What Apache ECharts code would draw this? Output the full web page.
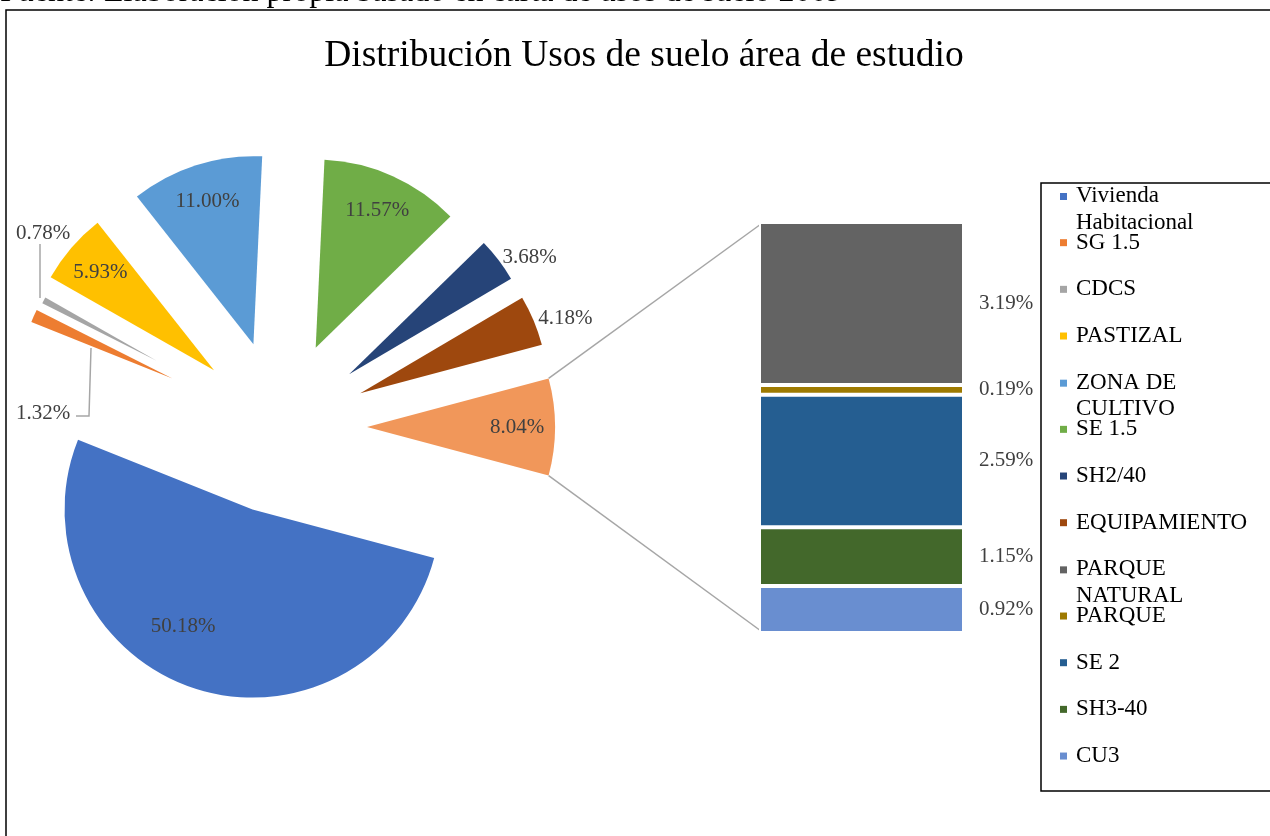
<!DOCTYPE html>
<html>
<head>
<meta charset="utf-8">
<script src="https://cdn.jsdelivr.net/npm/echarts@6/dist/echarts.min.js"></script>
<style>
html,body{margin:0;padding:0;background:#fff}
#main{width:1270px;height:836px}
</style>
</head>
<body>
<div id="main"></div>
<script>
// pie slices (the last one is the "others" slice broken out into the bar)
var pieNames = ['Vivienda Habitacional', 'SG 1.5', 'CDCS', 'PASTIZAL', 'ZONA DE CULTIVO',
                'SE 1.5', 'SH2/40', 'EQUIPAMIENTO', 'Otros'];
var pieColors = ['#4472c4', '#ed7d31', '#a5a5a5', '#ffc000', '#5b9bd5',
                 '#70ad47', '#264478', '#9e480e', '#f1975a'];
var barNames = ['PARQUE NATURAL', 'PARQUE', 'SE 2', 'SH3-40', 'CU3'];
var barValues = [3.19, 0.19, 2.59, 1.15, 0.92];
var barColors = ['#636363', '#9e7a00', '#255e91', '#43682b', '#698ed0'];
var otherValue = barValues.reduce(function (a, b) { return a + b; }, 0);
var pieValues = [50.18, 1.32, 0.78, 5.93, 11.00, 11.57, 3.68, 4.18, otherValue];

var legendNames = pieNames.slice(0, 8).concat(barNames);
// legend entries that Excel wraps onto a second line
var wrapped = {
    'Vivienda Habitacional': ['Vivienda', 'Habitacional'],
    'ZONA DE CULTIVO': ['ZONA DE', 'CULTIVO'],
    'PARQUE NATURAL': ['PARQUE', 'NATURAL']
};

var total = pieValues.reduce(function (a, b) { return a + b; }, 0);
var startAngle = -otherValue / total * 180;   // others slice centred on the right
var center = [280, 427];
var pieR = 188, explode = 87;
var gridLeft = 759, gridTop = 222, gridW = 205, gridH = 411;
var legBox = { x: 1041, y: 183, w: 300, h: 608 };
var legFirst = 195, legStep = 46.67;
var serif = 'Liberation Serif';

function pct(v) { return Number(v).toFixed(2) + '%'; }

// one pie series that only shows the slices listed in "keep"
function piePart(keep, radius, offset) {
    return {
        type: 'pie',
        name: 'part' + keep.join('-'),
        center: center,
        radius: radius,
        startAngle: startAngle,
        clockwise: true,
        selectedMode: 'multiple',
        selectedOffset: offset,
        avoidLabelOverlap: false,
        animation: false,
        emphasis: { disabled: true },
        label: { show: false },
        labelLine: { show: false },
        itemStyle: { borderWidth: 0 },
        data: pieValues.map(function (v, i) {
            var on = keep.indexOf(i) >= 0;
            return {
                value: v,
                name: on ? pieNames[i] : '',
                selected: on,
                itemStyle: { color: on ? pieColors[i] : 'rgba(0,0,0,0)' }
            };
        })
    };
}

var outsideIdx = [6, 7];
var leaderIdx = [1, 2];

var labelRing = {
    type: 'pie',
    name: 'labels',
    center: center,
    radius: [pieR, pieR + 92],
    startAngle: startAngle,
    silent: true,
    animation: false,
    avoidLabelOverlap: false,
    itemStyle: { color: 'rgba(0,0,0,0)', borderWidth: 0 },
    label: {
        show: true, position: 'inside', rotate: 0, distanceToLabelLine: 0,
        formatter: function (p) { return pct(p.value); },
        fontFamily: serif, fontSize: 21, color: '#404040'
    },
    labelLine: { show: false, length: 0, length2: 0 },
    data: pieValues.map(function (v, i) {
        var item = { value: v, name: '' };
        if (outsideIdx.indexOf(i) >= 0) {
            item.label = { position: 'outside' };
        }
        if (leaderIdx.indexOf(i) >= 0) {
            item.label = { position: 'outside' };
            item.labelLine = { show: true, lineStyle: { color: '#a6a6a6', width: 1.5 } };
        }
        return item;
    }),
    labelLayout: function (p) {
        if (p.dataIndex === 0) return { dx: -22, dy: -25 };
        if (p.dataIndex === 1) return {
            x: 43, y: 413, align: 'center', verticalAlign: 'middle',
            labelLinePoints: [[91, 348], [89, 416], [76, 416]]
        };
        if (p.dataIndex === 2) return {
            x: 43, y: 233, align: 'center', verticalAlign: 'middle',
            labelLinePoints: [[40, 298], [40, 244]]
        };
        return {};
    }
};

var barSeries = [];
for (var i = barNames.length - 1; i >= 0; i--) {
    barSeries.push({
        type: 'bar',
        name: barNames[i],
        stack: 'otros',
        barWidth: '100%',
        animation: false,
        data: [barValues[i]],
        itemStyle: { color: barColors[i], borderColor: '#fff', borderWidth: 2 },
        label: {
            show: true, position: 'right', distance: 15,
            formatter: function (p) { return pct(p.value); },
            fontFamily: serif, fontSize: 21, color: '#404040'
        }
    });
}

// one legend per entry so wrapped names overflow like in Excel
var legends = legendNames.map(function (n, k) {
    return {
        id: 'leg' + k,
        data: [n],
        orient: 'vertical',
        left: legBox.x + 19,
        top: legFirst + k * legStep - (wrapped[n] ? 14 : 12),
        padding: 0,
        itemWidth: 7, itemHeight: 7,
        icon: 'rect',
        selectedMode: false,
        itemStyle: { borderWidth: 0 },
        formatter: function (name) {
            var w = wrapped[name];
            return w ? '{a|' + w[0] + '}\n{b|' + w[1] + '}' : name;
        },
        textStyle: {
            fontFamily: serif, fontSize: 23, color: '#000',
            lineHeight: 26, padding: [0, 0, 0, 4],
            rich: {
                a: { fontFamily: serif, fontSize: 23, color: '#000', lineHeight: 30 },
                b: { fontFamily: serif, fontSize: 23, color: '#000', lineHeight: 1, verticalAlign: 'top' }
            }
        }
    };
});

// connector lines from the others slice to the bar
var half = otherValue / total * Math.PI;
var sx = center[0] + explode + pieR * Math.cos(half);
var sy = pieR * Math.sin(half);

var myChart = echarts.init(document.getElementById('main'));
var option = {
    backgroundColor: '#fff',
    animation: false,
    title: {
        text: 'Distribución Usos de suelo área de estudio',
        left: 644, top: 37, padding: 0, textAlign: 'center',
        textStyle: { fontFamily: serif, fontSize: 37.5, fontWeight: 'normal', color: '#000' }
    },
    legend: legends,
    grid: { left: gridLeft, top: gridTop, width: gridW, height: gridH, containLabel: false },
    xAxis: { type: 'category', data: [''], show: false },
    yAxis: { type: 'value', min: 0, max: otherValue, show: false },
    graphic: [
        { type: 'rect', z: -10, shape: { x: 6, y: 10, width: 1290, height: 900 },
          style: { fill: null, stroke: '#000', lineWidth: 1.5 } },
        { type: 'rect', z: -10, shape: { x: legBox.x, y: legBox.y, width: legBox.w, height: legBox.h },
          style: { fill: null, stroke: '#000', lineWidth: 1.5 } },
        { type: 'text', x: 0, y: -7,
          style: { text: 'Fuente: Elaboración propia basado en carta de usos de suelo 2009',
                   font: '32px "Liberation Serif"', fill: '#000', verticalAlign: 'middle' } },
        { type: 'line', shape: { x1: sx, y1: center[1] - sy, x2: gridLeft + 2, y2: gridTop + 2 },
          style: { stroke: '#a6a6a6', lineWidth: 1.5 } },
        { type: 'line', shape: { x1: sx, y1: center[1] + sy, x2: gridLeft + 2, y2: gridTop + gridH - 2 },
          style: { stroke: '#a6a6a6', lineWidth: 1.5 } }
    ],
    series: [
        piePart([0, 3, 4, 5, 6, 7, 8], pieR, explode),
        piePart([1], 152, 118),
        piePart([2], 128, 140),
        labelRing
    ].concat(barSeries)
};
myChart.setOption(option);
</script>
</body>
</html>
